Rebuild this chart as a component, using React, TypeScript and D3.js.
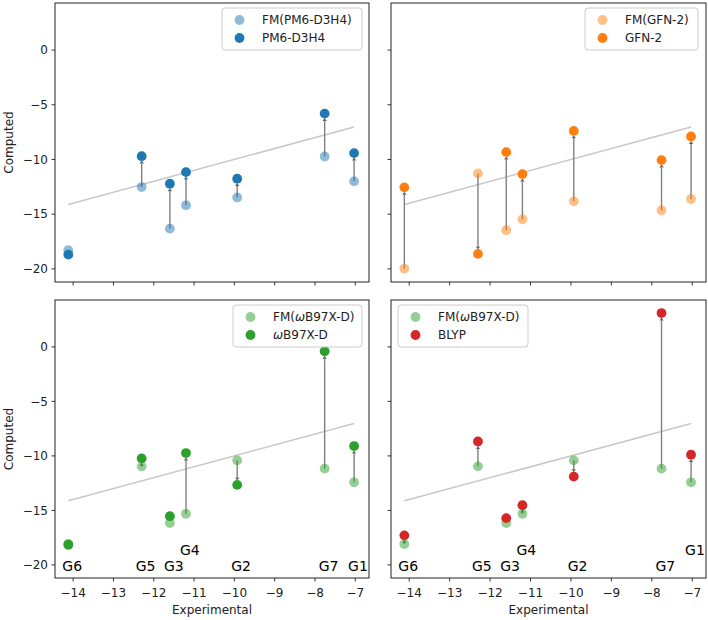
import React from "react";
import * as d3 from "d3";

// experimental values, one per group
const groups = ["G1", "G2", "G3", "G4", "G5", "G6", "G7"];
const experimental = [-7.03, -9.93, -11.6, -11.2, -12.3, -14.12, -7.76];

// computed values (same group order)
const fmPM6 = [-12.0, -13.47, -16.32, -14.19, -12.52, -18.3, -9.73];
const pm6 = [-9.42, -11.76, -12.22, -11.16, -9.7, -18.7, -5.81];
const fmGFN = [-13.62, -13.83, -16.47, -15.47, -11.28, -19.97, -14.65];
const gfn = [-7.9, -7.39, -9.33, -11.34, -18.63, -12.55, -10.06];
const fmWB = [-12.42, -10.41, -16.16, -15.31, -10.96, -18.08, -11.17];
const wb97 = [-9.1, -12.66, -15.53, -9.74, -10.23, -18.15, -0.4];
const blyp = [-9.89, -11.9, -15.71, -14.52, -8.68, -17.29, 3.1];

const xTicks = [-14, -13, -12, -11, -10, -9, -8, -7];
const yTicks = [0, -5, -10, -15, -20];

const font = "DejaVu Sans";
const minus = (v: number) => String(v).replace("-", "\u2212");

// layout
const cols = [
  [55, 369],
  [391, 706],
];
const rows = [
  [3, 282],
  [300, 578],
];

const panels = [
  { row: 0, col: 0, fm: fmPM6, val: pm6, fmName: "FM(PM6-D3H4)", name: "PM6-D3H4", fmColor: "#1f77b4", color: "#1f77b4", legend: [222, 362], labels: null },
  { row: 0, col: 1, fm: fmGFN, val: gfn, fmName: "FM(GFN-2)", name: "GFN-2", fmColor: "#ff7f0e", color: "#ff7f0e", legend: [585, 698], labels: null },
  { row: 1, col: 0, fm: fmWB, val: wb97, fmName: "FM(ωB97X-D)", name: "ωB97X-D", fmColor: "#2ca02c", color: "#2ca02c", legend: [233, 362], labels: ["G4"] },
  { row: 1, col: 1, fm: fmWB, val: blyp, fmName: "FM(ωB97X-D)", name: "BLYP", fmColor: "#2ca02c", color: "#d62728", legend: [398, 528], labels: ["G4", "G1"] },
];

function label(s: string) {
  if (!s.includes("ω")) return s;
  const [a, b] = s.split("ω");
  return (
    <>
      {a}
      <tspan fontStyle="italic">ω</tspan>
      {b}
    </>
  );
}

const R = 4.9;

const Panel = ({ p }: { p: any }) => {
  const [x0, x1] = cols[p.col];
  const [y0, y1] = rows[p.row];
  const x = d3.scaleLinear().domain([-14.45, -6.66]).range([x0, x1]);
  const y = d3.scaleLinear().domain([-21.2, 4.3]).range([y1, y0]);
  const lo = d3.min(experimental)!;
  const hi = d3.max(experimental)!;
  const [lx0, lx1] = p.legend;
  const ly = y0 + 5;

  return (
    <g fontFamily={font}>
      {/* identity line */}
      <path d={d3.line()([[x(lo), y(lo)], [x(hi), y(hi)]])!} stroke="#c8c8c8" strokeWidth={1.5} fill="none" />
      {/* arrows from FM to method */}
      {experimental.map((e, i) => {
        const px = x(e);
        const a = y(p.fm[i]);
        const b = y(p.val[i]);
        const dir = Math.sign(b - a) || 1;
        const tip = b - dir * (R - 0.5);
        const base = tip - dir * 3;
        if (Math.abs(b - a) < R + 2) return null;
        return (
          <g key={i}>
            <path d={d3.line()([[px, a], [px, base]])!} stroke="#808080" strokeWidth={1.4} />
            <path d={`M${px},${tip}L${px - 2.2},${base}L${px + 2.2},${base}Z`} fill="#666" />
          </g>
        );
      })}
      {experimental.map((e, i) => (
        <circle key={"f" + i} cx={x(e)} cy={y(p.fm[i])} r={R} fill={p.fmColor} fillOpacity={0.5} />
      ))}
      {experimental.map((e, i) => (
        <circle key={"v" + i} cx={x(e)} cy={y(p.val[i])} r={R} fill={p.color} />
      ))}
      {/* group labels */}
      {p.labels &&
        groups.map((g, i) => (
          <text
            key={g}
            x={x(experimental[i]) - 6}
            y={y(-20) + (p.labels.includes(g) ? -10 : 6.5)}
            fontSize={14}
            fill="#000"
          >
            {g}
          </text>
        ))}
      {/* frame */}
      <rect x={x0} y={y0} width={x1 - x0} height={y1 - y0} fill="none" stroke="#222" strokeWidth={1} />
      {/* ticks */}
      {xTicks.map((t) => (
        <g key={"x" + t}>
          <line x1={x(t)} x2={x(t)} y1={y1} y2={y1 + 3.5} stroke="#222" strokeWidth={0.9} />
          {p.row === 1 && (
            <text x={x(t)} y={y1 + 19} textAnchor="middle" fontSize={12} fill="#222">
              {minus(t)}
            </text>
          )}
        </g>
      ))}
      {yTicks.map((t) => (
        <g key={"y" + t}>
          <line x1={x0 - 3.5} x2={x0} y1={y(t)} y2={y(t)} stroke="#222" strokeWidth={0.9} />
          {p.col === 0 && (
            <text x={x0 - 7} y={y(t)} dy="0.35em" textAnchor="end" fontSize={12} fill="#222">
              {minus(t)}
            </text>
          )}
        </g>
      ))}
      {p.col === 0 && (
        <text transform={`translate(13,${(y0 + y1) / 2}) rotate(-90)`} textAnchor="middle" fontSize={12} fill="#222">
          Computed
        </text>
      )}
      {p.row === 1 && (
        <text x={(x0 + x1) / 2} y={614} textAnchor="middle" fontSize={12} fill="#222">
          Experimental
        </text>
      )}
      {/* legend */}
      <rect x={lx0} y={ly} width={lx1 - lx0} height={42} rx={3} fill="#fff" fillOpacity={0.8} stroke="#cccccc" />
      <circle cx={lx0 + 17.5} cy={ly + 12} r={R} fill={p.fmColor} fillOpacity={0.5} />
      <circle cx={lx0 + 17.5} cy={ly + 30} r={R} fill={p.color} />
      <text x={lx0 + 40} y={ly + 12} dy="0.35em" fontSize={12} fill="#222">
        {label(p.fmName)}
      </text>
      <text x={lx0 + 40} y={ly + 30} dy="0.35em" fontSize={12} fill="#222">
        {label(p.name)}
      </text>
    </g>
  );
};

export default function App() {
  return (
    <svg width={708} height={620} style={{ display: "block", position: "absolute", left: 0, top: 0, background: "#fff" }}>
      {panels.map((p, i) => (
        <Panel key={i} p={p} />
      ))}
    </svg>
  );
}
